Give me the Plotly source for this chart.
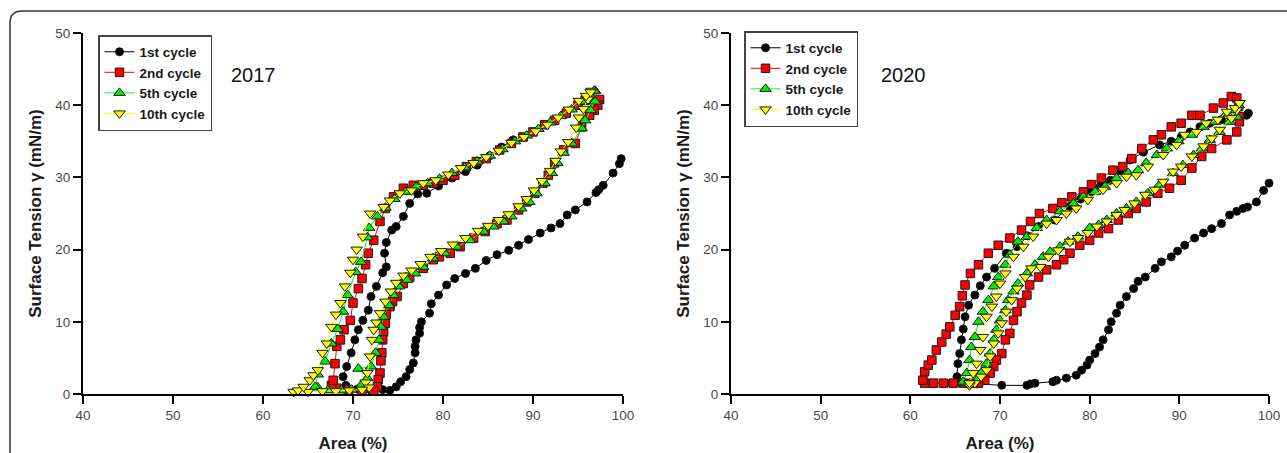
import plotly.graph_objects as go

# Surface tension (mN/m) vs relative area (%) for compression/expansion cycles.
# Each list holds (area, gamma) pairs in the order they were recorded.

CYCLE1_2017 = [(99.8, 32.6), (99.6, 31.9), (98.9, 30.6), (97.8, 28.9), (97.3, 28.3), (97.0, 27.9), (96.0, 26.6),
               (94.7, 25.5), (93.8, 24.8), (93.0, 23.6), (92.0, 23.0), (90.8, 22.3), (89.5, 21.4), (88.4, 20.6),
               (87.3, 19.9), (86.0, 19.3), (84.8, 18.5), (83.6, 17.4), (82.5, 16.7), (81.3, 16.0), (80.4, 15.1),
               (79.5, 13.7), (78.7, 12.5), (78.5, 11.2), (77.6, 10.0), (77.4, 9.2), (77.4, 8.4), (77.0, 7.5),
               (76.9, 6.6), (76.9, 5.7), (76.7, 4.3), (76.3, 3.4), (75.9, 2.4), (75.3, 1.7), (74.8, 1.0),
               (74.1, 0.5), (73.3, 0.6), (72.0, 0.5), (70.5, 0.7), (69.2, 1.2), (68.9, 2.4), (69.3, 3.8),
               (69.8, 5.7), (70.2, 7.5), (70.6, 8.9), (71.1, 10.2), (71.7, 11.6), (72.0, 13.5), (72.6, 14.9),
               (73.3, 16.8), (73.7, 17.6), (73.5, 19.5), (73.7, 21.0), (74.3, 22.7), (74.8, 23.2), (75.6, 24.6),
               (76.3, 26.4), (77.2, 27.7), (78.2, 27.8), (79.5, 28.8), (81.0, 29.9), (82.5, 30.8), (83.8, 31.7),
               (85.2, 33.0), (86.5, 34.2), (87.8, 35.2)]

CYCLE2_2017 = [(97.4, 40.8), (97.2, 40.0), (96.8, 39.3), (96.3, 38.6), (95.4, 37.0), (94.7, 34.7), (93.4, 33.8),
               (92.4, 32.0), (91.7, 30.3), (91.1, 29.2), (90.2, 27.8), (89.3, 26.6), (88.4, 25.5), (87.1, 24.1),
               (86.0, 23.6), (84.7, 22.5), (83.4, 21.6), (81.9, 20.4), (80.8, 19.5), (79.6, 19.0), (78.9, 18.6),
               (77.8, 17.4), (76.3, 16.2), (75.6, 15.3), (74.9, 13.5), (74.4, 12.8), (74.1, 12.1), (73.7, 11.0),
               (73.6, 9.8), (73.4, 8.6), (73.3, 7.5), (73.2, 5.7), (73.1, 4.6), (73.0, 2.9), (72.8, 2.0),
               (72.7, 1.0), (72.3, 0.5), (71.0, 0.5), (69.5, 0.6), (68.2, 0.8), (67.6, 1.2), (67.8, 1.9),
               (68.0, 4.2), (68.2, 6.6), (68.6, 7.5), (69.0, 8.9), (69.7, 10.2), (70.0, 12.6), (70.6, 14.6),
               (71.0, 16.0), (71.4, 17.9), (71.7, 19.5), (72.3, 21.3), (73.0, 23.9), (73.6, 25.7), (74.5, 27.3),
               (75.6, 28.5), (76.7, 28.9), (77.8, 28.9), (78.9, 29.2), (80.0, 29.6), (81.3, 30.3), (82.6, 31.5),
               (83.7, 32.2), (84.8, 32.6), (86.3, 33.8), (87.6, 34.7), (88.9, 35.6), (90.0, 36.3), (91.3, 37.3),
               (92.4, 37.9), (93.7, 38.9), (95.0, 40.0), (95.8, 40.7), (96.5, 41.0)]

CYCLE5_2017 = [(96.9, 42.0), (96.9, 40.5), (96.4, 39.3), (95.8, 37.9), (95.4, 36.8), (94.3, 34.7), (93.4, 33.4),
               (92.7, 32.0), (92.1, 30.6), (91.3, 29.2), (90.4, 27.8), (89.6, 26.6), (88.7, 25.7), (87.6, 24.6),
               (86.7, 23.9), (85.6, 23.2), (84.5, 22.5), (83.0, 21.3), (81.5, 20.4), (80.2, 19.5), (78.9, 18.8),
               (77.8, 17.6), (76.9, 16.7), (76.0, 15.8), (75.1, 14.9), (74.5, 13.7), (74.0, 12.3), (73.4, 10.7),
               (73.1, 9.3), (72.9, 7.5), (72.5, 5.7), (72.0, 3.8), (70.6, 3.5), (71.6, 2.2), (70.9, 1.2),
               (69.8, 0.6), (68.7, 0.5), (67.2, 0.5), (66.1, 0.9), (65.8, 1.0), (66.1, 2.7), (66.9, 4.5),
               (67.6, 7.0), (68.3, 9.0), (68.9, 11.4), (69.4, 13.7), (70.3, 16.9), (70.9, 18.3), (71.6, 21.7),
               (71.8, 23.0), (72.7, 24.6), (73.6, 25.8), (74.6, 27.0), (75.8, 28.0), (77.0, 28.7), (78.3, 29.2),
               (79.6, 29.8), (81.0, 30.6), (82.4, 31.4), (83.8, 32.2), (85.2, 33.0), (86.6, 33.9), (88.0, 35.0),
               (89.3, 35.8), (90.6, 36.7), (91.9, 37.6), (93.1, 38.5), (94.3, 39.4), (95.4, 40.5), (96.3, 41.4),
               (96.8, 42.0)]

CYCLE10_2017 = [(96.5, 42.0), (96.1, 40.8), (95.6, 39.5), (95.1, 38.3), (94.8, 36.9), (93.9, 34.9), (93.1, 33.6),
                (92.5, 32.3), (91.9, 30.9), (91.0, 29.5), (90.1, 28.2), (89.3, 27.0), (88.4, 26.0), (87.3, 24.9),
                (86.2, 24.1), (85.0, 23.3), (83.9, 22.6), (82.5, 21.6), (81.1, 20.7), (79.8, 19.8), (78.6, 19.0),
                (77.5, 18.0), (76.5, 17.1), (75.6, 16.4), (74.8, 15.4), (74.2, 14.2), (73.6, 12.8), (73.0, 11.2),
                (72.6, 9.9), (72.3, 8.9), (72.1, 7.5), (71.9, 5.2), (71.6, 2.9), (71.4, 1.6), (71.8, 0.9),
                (71.0, 0.6), (69.6, 0.5), (68.1, 0.4), (66.6, 0.4), (65.0, 0.3), (63.4, 0.3), (63.9, 0.5),
                (64.5, 1.0), (65.2, 1.9), (65.6, 2.6), (66.1, 3.3), (66.6, 5.7), (67.1, 7.0), (67.6, 9.3),
                (68.1, 11.0), (68.6, 12.6), (69.1, 14.9), (69.7, 16.8), (70.0, 18.6), (70.4, 20.0), (71.1, 21.8),
                (71.9, 25.0), (73.4, 25.9), (74.1, 26.8), (75.2, 27.8), (76.5, 28.2), (77.8, 29.2), (79.2, 29.6),
                (80.6, 30.4), (82.0, 31.3), (83.4, 32.0), (84.8, 32.8), (86.2, 33.7), (87.6, 34.8), (89.0, 35.6),
                (90.3, 36.4), (91.6, 37.3), (92.8, 38.3), (94.0, 39.4), (95.1, 40.6), (95.9, 41.3), (96.4, 41.8)]

CYCLE1_2020 = [(100.0, 29.2), (99.4, 28.2), (98.6, 26.6), (97.6, 25.9), (97.1, 25.7), (96.4, 25.3), (95.6, 24.8),
               (94.7, 23.6), (93.6, 22.9), (92.7, 22.3), (91.7, 21.6), (90.6, 20.6), (89.8, 19.8), (89.1, 19.0),
               (88.0, 18.3), (87.3, 17.4), (86.2, 16.2), (85.4, 15.6), (84.9, 14.6), (84.1, 13.5), (83.4, 12.3),
               (83.0, 11.2), (82.4, 10.0), (82.1, 8.9), (81.5, 7.5), (81.1, 6.5), (80.6, 5.6), (80.0, 4.7),
               (79.7, 4.0), (79.1, 3.3), (78.5, 2.6), (77.4, 2.2), (76.3, 1.9), (75.9, 1.7), (73.9, 1.5),
               (73.4, 1.4), (73.0, 1.2), (70.2, 1.2), (67.5, 1.4), (65.0, 1.5), (64.6, 1.5), (65.2, 2.4),
               (65.3, 4.2), (65.5, 5.6), (65.7, 7.5), (65.9, 9.0), (66.1, 10.7), (66.5, 12.3), (67.2, 13.7),
               (67.8, 15.0), (68.5, 16.2), (69.4, 17.4), (70.7, 19.5), (71.9, 20.4), (73.1, 21.9), (74.3, 23.2),
               (76.1, 24.1), (77.8, 26.0), (79.0, 27.0), (80.2, 28.0), (81.2, 28.8), (82.3, 29.6), (83.4, 30.9),
               (84.5, 32.4), (86.0, 33.5), (87.8, 34.5), (89.1, 35.0), (90.2, 35.6), (91.2, 36.3), (92.3, 37.0),
               (93.4, 37.5), (94.7, 38.0), (96.4, 38.4), (97.5, 38.6), (97.7, 38.9)]

CYCLE2_2020 = [(96.6, 39.8), (96.7, 38.4), (96.7, 37.7), (96.4, 36.3), (95.3, 35.2), (93.6, 34.0), (92.5, 32.9),
               (91.4, 31.3), (90.2, 29.6), (88.9, 28.5), (87.6, 27.8), (86.3, 26.6), (85.2, 25.7), (84.3, 25.0),
               (83.2, 24.1), (82.1, 22.9), (81.0, 22.3), (80.0, 21.3), (78.9, 20.6), (77.8, 19.5), (77.1, 18.6),
               (76.3, 17.9), (75.2, 17.2), (74.3, 16.2), (73.3, 15.1), (73.0, 13.7), (72.4, 12.6), (71.9, 11.4),
               (71.5, 10.2), (71.1, 8.4), (70.6, 7.5), (70.2, 5.6), (69.6, 4.7), (69.3, 3.8), (68.9, 2.9),
               (68.3, 1.9), (67.6, 1.5), (67.0, 1.5), (65.9, 1.5), (64.8, 1.5), (63.7, 1.5), (62.6, 1.5),
               (61.6, 1.5), (61.4, 1.9), (61.6, 3.1), (62.0, 4.0), (62.4, 4.7), (62.9, 6.1), (63.5, 7.2),
               (64.0, 8.3), (64.4, 9.3), (65.0, 10.9), (65.5, 12.1), (65.8, 13.6), (66.1, 15.1), (66.7, 16.7),
               (67.6, 17.9), (68.7, 19.5), (69.8, 20.6), (71.1, 21.6), (72.4, 22.7), (73.4, 23.9), (74.4, 25.0),
               (75.9, 25.7), (76.9, 26.5), (78.0, 27.3), (79.3, 28.0), (80.2, 29.0), (81.3, 29.9), (82.6, 31.0),
               (83.7, 31.5), (84.7, 32.6), (85.8, 34.0), (87.1, 35.2), (88.0, 35.9), (89.1, 37.0), (90.2, 37.5),
               (91.4, 38.6), (92.3, 38.6), (93.8, 39.6), (94.9, 40.3), (95.8, 41.2), (96.4, 41.0)]

CYCLE5_2020 = [(96.6, 40.0), (96.4, 38.4), (95.6, 37.7), (94.5, 36.3), (93.4, 35.2), (92.5, 34.0), (91.6, 33.1),
               (90.4, 31.7), (89.3, 30.6), (87.8, 29.0), (86.5, 27.8), (85.2, 26.6), (84.1, 25.7), (83.0, 25.0),
               (81.9, 24.1), (81.0, 23.4), (80.0, 23.0), (78.7, 21.8), (77.6, 21.1), (76.7, 20.4), (75.6, 19.7),
               (74.8, 19.0), (73.9, 17.9), (73.0, 16.7), (72.0, 15.3), (71.5, 14.2), (70.9, 13.0), (70.6, 11.6),
               (70.0, 10.2), (69.6, 8.9), (69.3, 7.5), (68.9, 5.6), (68.5, 4.2), (67.9, 2.9), (67.4, 1.9),
               (66.6, 1.5), (65.9, 1.5), (65.9, 1.7), (66.3, 2.9), (66.6, 4.7), (66.8, 6.5), (67.2, 7.9),
               (67.6, 10.0), (68.1, 11.4), (68.7, 13.0), (69.3, 14.9), (69.8, 16.2), (70.6, 17.9), (71.1, 19.3),
               (72.0, 21.1), (73.0, 21.8), (74.1, 23.0), (75.2, 24.1), (76.7, 25.3), (78.2, 26.4), (79.3, 27.3),
               (80.6, 28.0), (81.7, 28.7), (83.0, 29.9), (84.3, 30.6), (85.4, 31.0), (86.3, 32.0), (87.5, 33.1),
               (88.6, 34.0), (89.9, 35.0), (91.4, 35.9), (92.7, 37.0), (94.0, 37.7), (95.3, 38.9), (96.2, 39.3),
               (96.6, 40.0)]

CYCLE10_2020 = [(96.7, 40.3), (96.4, 39.3), (95.8, 38.2), (94.5, 36.6), (93.6, 35.4), (92.7, 34.3), (91.4, 32.9),
                (90.2, 31.5), (89.3, 30.8), (88.2, 29.4), (87.3, 28.3), (86.2, 27.6), (85.0, 26.4), (83.9, 25.5),
                (83.0, 24.8), (81.9, 23.9), (80.8, 23.2), (79.8, 22.3), (78.7, 21.6), (77.8, 21.1), (76.5, 19.9),
                (75.4, 19.0), (74.5, 17.6), (73.5, 17.4), (72.8, 16.2), (71.9, 14.6), (71.3, 13.0), (70.7, 11.4),
                (70.2, 9.8), (69.8, 8.4), (69.3, 7.0), (68.9, 5.2), (68.5, 3.3), (67.9, 2.4), (67.2, 1.5),
                (66.6, 1.2), (66.6, 1.5), (67.0, 2.9), (67.4, 4.2), (67.8, 6.1), (68.1, 7.9), (68.5, 10.7),
                (69.1, 12.1), (69.6, 13.5), (70.0, 15.3), (70.6, 16.7), (71.5, 19.0), (72.6, 20.4), (73.7, 21.8),
                (75.2, 23.6), (76.3, 24.1), (77.4, 25.0), (78.5, 25.7), (79.8, 26.9), (81.5, 28.3), (83.0, 29.2),
                (84.1, 30.1), (85.2, 30.3), (86.5, 31.5), (88.2, 33.1), (89.7, 34.5), (90.6, 35.9), (91.9, 36.3),
                (93.0, 37.5), (94.3, 38.0), (95.3, 39.1), (96.2, 39.6), (96.7, 40.3)]

CYCLE_NAMES = ["1st cycle", "2nd cycle", "5th cycle", "10th cycle"]
PANEL_YEARS = ["2017", "2020"]
X_TICKS = [40, 50, 60, 70, 80, 90, 100]
Y_TICKS = [0, 10, 20, 30, 40, 50]

PANELS = [
    [CYCLE1_2017, CYCLE2_2017, CYCLE5_2017, CYCLE10_2017],
    [CYCLE1_2020, CYCLE2_2020, CYCLE5_2020, CYCLE10_2020],
]

# Styling per cycle: line colour, marker fill, marker symbol, marker size
STYLES = [
    ("#000000", "#000000", "circle", 8),
    ("#ff0000", "#ff0000", "square", 8.5),
    ("#00ff00", "#00ee00", "triangle-up", 10),
    ("#ffff00", "#ffff00", "triangle-down", 10),
]

FONT = "Liberation Sans, Arial, Helvetica, sans-serif"
W, H = 1287, 453

fig = go.Figure()

for p, series in enumerate(PANELS):
    xa = "x" if p == 0 else "x2"
    ya = "y" if p == 0 else "y2"
    leg = "legend" if p == 0 else "legend2"
    for name, pts, (lc, fc, sym, sz) in zip(CYCLE_NAMES, series, STYLES):
        fig.add_trace(go.Scatter(
            x=[a for a, _ in pts],
            y=[g for _, g in pts],
            mode="lines+markers",
            name=name,
            line=dict(color=lc, width=1),
            marker=dict(symbol=sym, size=sz, color=fc,
                        line=dict(color="#1a1a1a", width=1)),
            xaxis=xa, yaxis=ya, legend=leg,
            cliponaxis=False,
        ))

y_dom = [(H - 394) / H, (H - 33) / H]
axis_common = dict(
    showgrid=False, zeroline=False, showline=True, linecolor="#000000", linewidth=2,
    ticks="outside", ticklen=8, tickwidth=2, tickcolor="#000000",
    tickfont=dict(family=FONT, size=13.5, color="#4a4a4a"),
    mirror=False, automargin=False,
)
title_font = dict(family=FONT, size=17, color="#1a1a1a", weight="bold")
legend_common = dict(
    xanchor="left", yanchor="top",
    bgcolor="white", bordercolor="#444444", borderwidth=1.5,
    font=dict(family=FONT, size=13.5, color="#1a1a1a", weight="bold"),
    tracegroupgap=0,
)

fig.update_layout(
    width=W, height=H,
    margin=dict(l=0, r=0, t=0, b=0, autoexpand=False),
    paper_bgcolor="white", plot_bgcolor="white",
    xaxis=dict(domain=[83 / W, 623 / W], range=[40, 100], tickvals=X_TICKS, anchor="y",
               title=dict(text="Area (%)", font=title_font, standoff=16), **axis_common),
    yaxis=dict(domain=y_dom, range=[0, 50], tickvals=Y_TICKS, anchor="x",
               title=dict(text="Surface Tension γ (mN/m)", font=title_font, standoff=9), **axis_common),
    xaxis2=dict(domain=[731 / W, 1269 / W], range=[40, 100], tickvals=X_TICKS, anchor="y2",
                title=dict(text="Area (%)", font=title_font, standoff=16), **axis_common),
    yaxis2=dict(domain=y_dom, range=[0, 50], tickvals=Y_TICKS, anchor="x2",
                title=dict(text="Surface Tension γ (mN/m)", font=title_font, standoff=9), **axis_common),
    legend=dict(x=98 / W, y=(H - 35) / H, **legend_common),
    legend2=dict(x=744 / W, y=(H - 31) / H, **legend_common),
    showlegend=True,
)

# Year labels inside each panel
for xc, year in zip([254 / W, 903 / W], PANEL_YEARS):
    fig.add_annotation(x=xc, y=(H - 75) / H, xref="paper", yref="paper", text=year,
                       showarrow=False, font=dict(family=FONT, size=20, color="#111111"),
                       xanchor="center", yanchor="middle")

# Rounded outer frame
x0, y0, r = 10 / W, 1 - 11 / H, 12
fig.add_shape(type="path", xref="paper", yref="paper",
              path=f"M {x0},-0.2 L {x0},{y0 - r / H} Q {x0},{y0} {x0 + r / W},{y0} L 1.2,{y0}",
              line=dict(color="#333333", width=1.5))

fig.write_html("out.html")
